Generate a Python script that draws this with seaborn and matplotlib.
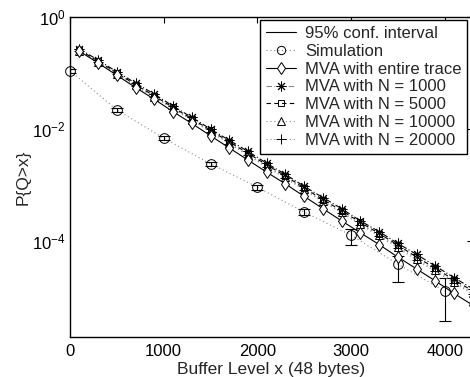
import numpy as np
import pandas as pd
import seaborn as sns
from matplotlib import pyplot as plt
from matplotlib.lines import Line2D

# MVA curves are evaluated at these buffer levels
mva_x = [100, 300, 500, 700, 900, 1100, 1300, 1500, 1700, 1900, 2100,
         2300, 2500, 2700, 2900, 3100, 3300, 3500, 3700, 3900, 4100, 4300]

mva_entire = [0.245, 0.151, 0.091, 0.055, 0.034, 0.0204, 0.0126, 0.0076, 0.0046,
              0.0028, 0.0017, 0.00105, 6.3e-4, 3.8e-4, 2.3e-4, 1.41e-4, 8.7e-5,
              5.2e-5, 3.2e-5, 1.95e-5, 1.17e-5, 7.2e-6]
mva_n1000 = [0.269, 0.170, 0.105, 0.066, 0.042, 0.0257, 0.0162, 0.0100, 0.0063,
             0.0040, 0.00245, 0.00155, 9.5e-4, 6.0e-4, 3.8e-4, 2.3e-4, 1.48e-4,
             9.1e-5, 5.8e-5, 3.6e-5, 2.24e-5, 1.41e-5]
mva_n5000 = [0.257, 0.163, 0.100, 0.062, 0.039, 0.0243, 0.0153, 0.0095, 0.0059,
             0.0037, 0.0023, 0.00145, 8.9e-4, 5.5e-4, 3.5e-4, 2.16e-4, 1.37e-4,
             8.5e-5, 5.2e-5, 3.3e-5, 2.04e-5, 1.29e-5]
mva_n10000 = [0.251, 0.158, 0.098, 0.060, 0.038, 0.0234, 0.0148, 0.0091, 0.0056,
              0.0035, 0.0022, 0.00138, 8.5e-4, 5.2e-4, 3.3e-4, 2.04e-4, 1.29e-4,
              7.9e-5, 4.9e-5, 3.1e-5, 1.9e-5, 1.2e-5]
mva_n20000 = [0.248, 0.156, 0.096, 0.059, 0.037, 0.0229, 0.0144, 0.0089, 0.0055,
              0.0034, 0.0021, 0.00133, 8.2e-4, 5.0e-4, 3.2e-4, 1.95e-4, 1.23e-4,
              7.6e-5, 4.6e-5, 2.9e-5, 1.8e-5, 1.13e-5]

# Simulation with 95% confidence interval
sim_x = [0, 500, 1000, 1500, 2000, 2500, 3000, 3500, 4000]
sim_p = [0.11, 0.022, 0.0069, 0.0024, 9.2e-4, 3.3e-4, 1.28e-4, 3.9e-5, 1.28e-5]
sim_lo = [0.10, 0.020, 0.0063, 0.0022, 8.3e-4, 2.9e-4, 8.5e-5, 1.86e-5, 3.7e-6]
sim_hi = [0.12, 0.024, 0.0076, 0.0026, 1.0e-3, 3.7e-4, 1.63e-4, 5.4e-5, 2.19e-5]

sns.set_style("white")
plt.rcParams["font.family"] = ["Liberation Sans", "DejaVu Sans"]

fig, ax = plt.subplots(figsize=(4.7, 3.77), dpi=100)
fig.subplots_adjust(left=0.149, right=1.006, bottom=0.106, top=0.955)

gray = "#8c8c8c"
dotted = (0, (1, 2.5))
asterisk = (8, 2, 0)

# Simulation points and error bars
sim = pd.DataFrame({"x": sim_x, "p": sim_p})
sns.lineplot(data=sim, x="x", y="p", ax=ax, color=gray, linestyle=dotted,
             linewidth=0.8, marker="o", markersize=7, markerfacecolor="none",
             markeredgecolor="black", markeredgewidth=0.7, clip_on=False)
yerr = [np.array(sim_p) - np.array(sim_lo), np.array(sim_hi) - np.array(sim_p)]
ax.errorbar(sim_x, sim_p, yerr=yerr, fmt="none", ecolor="black",
            elinewidth=0.8, capsize=4, capthick=0.8)

series = [
    (mva_n20000, dict(color=gray, linestyle=dotted, marker="+",
                      markersize=7, markeredgecolor="black")),
    (mva_n10000, dict(color=gray, linestyle=dotted, marker="^",
                      markersize=6, markerfacecolor="none", markeredgecolor="black")),
    (mva_n5000, dict(color="black", linestyle=(0, (4, 3)), marker="s",
                     markersize=5, markerfacecolor="none", markeredgecolor="black")),
    (mva_n1000, dict(color="black", linestyle=(0, (5, 2, 1, 2)), marker=asterisk,
                     markersize=7, markeredgecolor="black")),
    (mva_entire, dict(color="black", linestyle="-", marker="d",
                      markersize=6, markerfacecolor="white", markeredgecolor="black")),
]
for vals, style in series:
    df = pd.DataFrame({"x": mva_x, "p": vals})
    sns.lineplot(data=df, x="x", y="p", ax=ax, linewidth=0.8,
                 markeredgewidth=0.7, **style)

ax.set_yscale("log")
ax.set_xlim(0, 4300)
ax.set_ylim(10 ** -5.71, 1)
ax.set_xticks([0, 1000, 2000, 3000, 4000])
ax.set_yticks([1, 1e-2, 1e-4])
ax.yaxis.set_minor_locator(plt.NullLocator())
ax.tick_params(axis="both", which="both", direction="in", length=4, width=0.8,
               top=True, right=True, labelsize=12, colors="black")
ax.tick_params(axis="x", pad=5)
ax.tick_params(axis="y", pad=3)
for s in ax.spines.values():
    s.set_linewidth(1.0)
    s.set_color("black")

ax.set_xlabel("Buffer Level x (48 bytes)", fontsize=12.5, labelpad=2)
ax.set_ylabel("P{Q>x}", fontsize=12.5, labelpad=1)

handles = [
    Line2D([], [], color="black", linewidth=0.8),
    Line2D([], [], color=gray, linestyle=dotted, linewidth=0.8, marker="o",
           markersize=6, markerfacecolor="none", markeredgecolor="black",
           markeredgewidth=0.7),
    Line2D([], [], color="black", linewidth=0.8, marker="d", markersize=6,
           markerfacecolor="white", markeredgecolor="black", markeredgewidth=0.7),
    Line2D([], [], color=gray, linestyle=(0, (5, 2, 1, 2)), linewidth=0.8,
           marker=asterisk, markersize=7, markeredgecolor="black",
           markeredgewidth=0.7),
    Line2D([], [], color="black", linestyle=(0, (4, 3)), linewidth=0.8, marker="s",
           markersize=5, markerfacecolor="none", markeredgecolor="black",
           markeredgewidth=0.7),
    Line2D([], [], color=gray, linestyle=dotted, linewidth=0.8, marker="^",
           markersize=6, markerfacecolor="none", markeredgecolor="black",
           markeredgewidth=0.7),
    Line2D([], [], color=gray, linestyle=dotted, linewidth=0.8, marker="+",
           markersize=7, markeredgecolor="black", markeredgewidth=0.7),
]
labels = ["95% conf. interval", "Simulation", "MVA with entire trace",
          "MVA with N = 1000", "MVA with N = 5000", "MVA with N = 10000",
          "MVA with N = 20000"]
leg = ax.legend(handles, labels, loc="upper left", bbox_to_anchor=(0.4715, 0.99),
                fontsize=12, handlelength=1.8, handletextpad=0.55,
                labelspacing=0.17, borderpad=0.35, borderaxespad=0,
                fancybox=False, framealpha=1)
leg.get_frame().set_edgecolor("black")
leg.get_frame().set_linewidth(1.0)

plt.savefig("out.png", dpi=100)
